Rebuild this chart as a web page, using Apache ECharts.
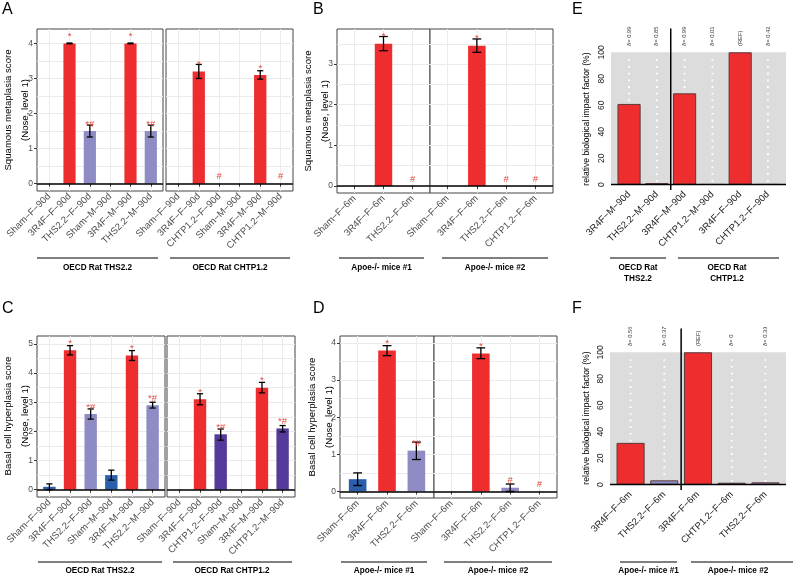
<!DOCTYPE html>
<html><head><meta charset="utf-8">
<script src="https://cdn.jsdelivr.net/npm/echarts@6/dist/echarts.min.js"></script>
<style>html,body{margin:0;padding:0;background:#fff}#c{width:793px;height:577px}</style>
</head><body><div id="c"></div>
<script>
// ================= DATA =================
// Panel A (Squamous metaplasia, OECD rat studies)
const catsA1 = ['Sham−F−90d','3R4F−F−90d','THS2.2−F−90d','Sham−M−90d','3R4F−M−90d','THS2.2−M−90d'];
const meanA1 = [0, 4.0, 1.5, 0, 4.0, 1.5];
const loA1   = [null, 3.99, 1.33, null, 3.99, 1.33];
const hiA1   = [null, 4.01, 1.67, null, 4.01, 1.67];
const sigA1  = ['', '*', '*#', '', '*', '*#'];

const catsA2 = ['Sham−F−90d','3R4F−F−90d','CHTP1.2−F−90d','Sham−M−90d','3R4F−M−90d','CHTP1.2−M−90d'];
const meanA2 = [0, 3.2, 0, 0, 3.1, 0];
const loA2   = [null, 3.0, null, null, 2.98, null];
const hiA2   = [null, 3.4, null, null, 3.22, null];
const sigA2  = ['', '*', '#', '', '*', '#'];

// Panel B (Squamous metaplasia, Apoe-/- mice)
const catsB1 = ['Sham−F−6m','3R4F−F−6m','THS2.2−F−6m'];
const meanB1 = [0, 3.5, 0];
const loB1   = [null, 3.33, null];
const hiB1   = [null, 3.68, null];
const sigB1  = ['', '*', '#'];

const catsB2 = ['Sham−F−6m','3R4F−F−6m','THS2.2−F−6m','CHTP1.2−F−6m'];
const meanB2 = [0, 3.45, 0, 0];
const loB2   = [null, 3.29, null, null];
const hiB2   = [null, 3.62, null, null];
const sigB2  = ['', '*', '#', '#'];

// Panel C (Basal cell hyperplasia, OECD rat studies)
const catsC1 = catsA1;
const meanC1 = [0.1, 4.78, 2.6, 0.5, 4.6, 2.9];
const loC1   = [0, 4.62, 2.42, 0.33, 4.43, 2.8];
const hiC1   = [0.2, 4.94, 2.77, 0.67, 4.77, 3.0];
const sigC1  = ['', '*', '*#', '', '*', '*#'];

const catsC2 = catsA2;
const meanC2 = [0, 3.1, 1.9, 0, 3.5, 2.1];
const loC2   = [null, 2.91, 1.7, null, 3.32, 1.98];
const hiC2   = [null, 3.29, 2.08, null, 3.68, 2.2];
const sigC2  = ['', '*', '*#', '', '*', '*#'];

// Panel D (Basal cell hyperplasia, Apoe-/- mice)
const catsD1 = catsB1;
const meanD1 = [0.33, 3.8, 1.1];
const loD1   = [0.16, 3.66, 0.86];
const hiD1   = [0.5, 3.93, 1.33];
const sigD1  = ['', '*', '*#'];

const catsD2 = catsB2;
const meanD2 = [0, 3.72, 0.1, 0];
const loD2   = [null, 3.58, 0, null];
const hiD2   = [null, 3.87, 0.2, null];
const sigD2  = ['', '*', '#', '#'];

// Panel E / F (relative biological impact factor, %)
const catsE  = ['3R4F−M−90d','THS2.2−M−90d','3R4F−M−90d','CHTP1.2−M−90d','3R4F−F−90d','CHTP1.2−F−90d'];
const rbifE  = [61, 1.2, 69, 0.4, 100, 0.4];
const deltaE = ['δ= 0.99','δ= 0.85','δ= 0.99','δ= 0.01','(REF)','δ= 0.42'];
const splitE = 2;   // number of bars in first group

const catsF  = ['3R4F−F−6m','THS2.2−F−6m','3R4F−F−6m','CHTP1.2−F−6m','THS2.2−F−6m'];
const rbifF  = [31.6, 3.3, 100, 1.5, 1.8];
const deltaF = ['δ= 0.56','δ= 0.37','(REF)','δ= 0','δ= 0.33'];
const splitF = 2;

const rbifTicks = [0, 20, 40, 60, 80, 100];
const groupNamesA = ['OECD Rat THS2.2', 'OECD Rat CHTP1.2'];
const groupNamesB = ['Apoe-/- mice #1', 'Apoe-/- mice #2'];
const groupNamesE = ['OECD Rat\nTHS2.2', 'OECD Rat\nCHTP1.2'];

// ================= STYLE =================
const FONT = 'Liberation Sans, Arial, Helvetica, sans-serif';
const COLORS = {'Sham':'#2B5EAB','3R4F':'#EE2E2E','THS2.2':'#8E8BC5','CHTP1.2':'#55399B'};
const colorOf = c => COLORS[c.split('−')[0]];
const GRIDC = '#ebebeb';
const SIGC = '#E8483F';
const XLAB = 9.5;

const option = {animation:false, backgroundColor:'#fff', grid:[], xAxis:[], yAxis:[], series:[], graphic:[]};

function addGG(p){
  const gi = option.grid.length;
  const [l,t,r,b] = p.box;
  option.grid.push({left:l, top:t, width:r-l, height:b-t, show:true, borderColor:'#444', borderWidth:1,
    backgroundColor:'#fff', containLabel:false, outerBoundsMode:'none'});
  const n = p.cats.length;
  const idx = p.cats.map((c,i)=>i+1);
  const xi = option.xAxis.length;
  option.xAxis.push({type:'value', gridIndex:gi, min:0.4, max:n+0.6,
    axisLine:{show:false},
    axisTick:{show:true, customValues:idx, length:3, lineStyle:{color:'#333', width:1}},
    axisLabel:{show:true, customValues:idx, formatter:v=>p.cats[Math.round(v)-1]||'', rotate:45,
      fontSize:XLAB, fontFamily:FONT, color:'#4d4d4d', margin:4},
    splitLine:{show:true, lineStyle:{color:GRIDC, width:1}}});
  const yi = option.yAxis.length;
  option.yAxis.push({type:'value', gridIndex:gi, min:p.yMin, max:p.yMax, position:'left',
    axisLine:{show:false},
    axisTick:{show:p.showY, customValues:p.yTicks, length:3, lineStyle:{color:'#333'}},
    axisLabel:{show:p.showY, customValues:p.yTicks, fontSize:8.5, fontFamily:FONT, color:'#4d4d4d', margin:4},
    splitLine:{show:false}});
  option.yAxis.push({type:'value', gridIndex:gi, min:p.yMin, max:p.yMax,
    axisLine:{show:false}, axisTick:{show:false, customValues:p.yGrid}, axisLabel:{show:false},
    splitLine:{show:true, lineStyle:{color:GRIDC, width:1}}});
  option.series.push({type:'bar', xAxisIndex:xi, yAxisIndex:yi, barWidth:'60%', z:3, silent:true,
    data:p.cats.map((c,i)=>({value:[i+1, p.mean[i]], itemStyle:{color:colorOf(c)}})),
    markLine:{silent:true, symbol:'none', label:{show:false}, animation:false,
      lineStyle:{color:'#000', width:1.6, type:'solid'}, data:[{yAxis:0}]}});
  option.series.push({type:'custom', xAxisIndex:xi, yAxisIndex:yi, z:5, silent:true,
    data:p.cats.map((c,i)=>[i+1, p.lo[i], p.hi[i]]).filter(d=>d[1]!=null),
    renderItem:(params, api)=>{
      const x = api.value(0);
      const a = api.coord([x, api.value(1)]), bb = api.coord([x, api.value(2)]);
      const hw = api.size([0.15, 0])[0];
      const st = {stroke:'#000', lineWidth:1.3};
      return {type:'group', children:[
        {type:'line', shape:{x1:a[0], y1:a[1], x2:bb[0], y2:bb[1]}, style:st},
        {type:'line', shape:{x1:a[0]-hw, y1:a[1], x2:a[0]+hw, y2:a[1]}, style:st},
        {type:'line', shape:{x1:bb[0]-hw, y1:bb[1], x2:bb[0]+hw, y2:bb[1]}, style:st}]};
    }});
  option.series.push({type:'custom', xAxisIndex:xi, yAxisIndex:yi, z:6, silent:true,
    data:p.cats.map((c,i)=>[i+1, p.mean[i]]),
    renderItem:(params, api)=>{
      const s = p.sig[params.dataIndex];
      if (!s) return null;
      const pt = api.coord([api.value(0), api.value(1)]);
      return {type:'text', x:pt[0], y:pt[1]-7, style:{text:s, fill:SIGC, font:'9.5px '+FONT,
        align:'center', verticalAlign:'middle', textAlign:'center', textVerticalAlign:'middle'}};
    }});
}

function addBase(p){
  const gi = option.grid.length;
  const [l,t,r,b] = p.box;
  option.grid.push({left:l, top:t, width:r-l, height:b-t, show:false, containLabel:false, outerBoundsMode:'none'});
  const centers = p.cats.map((c,i)=>1.2*(i+1)-0.5);
  const xi = option.xAxis.length, yi = option.yAxis.length;
  option.xAxis.push({type:'value', gridIndex:gi, min:p.xMin, max:p.xMax,
    axisLine:{show:false}, axisTick:{show:false, customValues:centers},
    axisLabel:{customValues:centers, formatter:v=>p.cats[Math.round((v+0.5)/1.2)-1]||'', rotate:45,
      fontSize:XLAB, fontFamily:FONT, color:'#222', margin:3},
    splitLine:{show:false}});
  option.yAxis.push({type:'value', gridIndex:gi, min:-4, max:104,
    axisLine:{show:false}, axisTick:{show:false, customValues:rbifTicks},
    axisLabel:{customValues:rbifTicks, rotate:90, fontSize:8.5, fontFamily:FONT, color:'#222', margin:5},
    splitLine:{show:false}});
  // grey background
  option.series.push({type:'custom', xAxisIndex:xi, yAxisIndex:yi, z:1, silent:true,
    data:[[p.xMin, 0, p.xMax, 100]],
    renderItem:(params, api)=>{
      const a = api.coord([api.value(0), api.value(1)]), bb = api.coord([api.value(2), api.value(3)]);
      return {type:'rect', shape:{x:a[0], y:bb[1], width:bb[0]-a[0], height:a[1]-bb[1]}, style:{fill:'#dcdcdc'}};
    }});
  // white dotted guide lines
  option.series.push({type:'custom', xAxisIndex:xi, yAxisIndex:yi, z:2, silent:true,
    data:centers.map(c=>[c, 0, 100]),
    renderItem:(params, api)=>{
      const a = api.coord([api.value(0), api.value(1)]), bb = api.coord([api.value(0), api.value(2)]);
      return {type:'line', shape:{x1:a[0], y1:a[1]-3, x2:bb[0], y2:bb[1]+3},
        style:{stroke:'#fff', lineWidth:1.8, lineDash:[1.8, 4.9]}};
    }});
  option.series.push({type:'bar', xAxisIndex:xi, yAxisIndex:yi, barWidth:'83.33%', z:3, silent:true,
    data:p.cats.map((c,i)=>({value:[centers[i], p.vals[i]],
      itemStyle:{color:colorOf(c), borderColor:'#5a3a3a', borderWidth:1}})),
    markLine:{silent:true, symbol:'none', label:{show:false}, animation:false,
      lineStyle:{color:'#000', width:1.3, type:'solid'}, data:[{yAxis:0}]}});
  // separator + delta labels
  const sep = 1.2*p.split + 0.1;
  option.series.push({type:'custom', xAxisIndex:xi, yAxisIndex:yi, z:6, silent:true,
    data:[[sep, -4, 118]].concat(centers.map(c=>[c, 104, 104])),
    renderItem:(params, api)=>{
      if (params.dataIndex === 0){
        const a = api.coord([api.value(0), api.value(1)]), bb = api.coord([api.value(0), api.value(2)]);
        return {type:'line', shape:{x1:a[0], y1:a[1], x2:bb[0], y2:bb[1]}, style:{stroke:'#000', lineWidth:1.5}};
      }
      const pt = api.coord([api.value(0), api.value(1)]);
      return {type:'text', x:pt[0], y:pt[1]-1, rotation:Math.PI/2,
        style:{text:p.delta[params.dataIndex-1], fill:'#333', font:'5.8px '+FONT,
          align:'left', verticalAlign:'middle', textAlign:'left', textVerticalAlign:'middle'}};
    }});
}

const yG = (max)=>{ const a=[]; for(let v=0; v<=max; v+=0.5) a.push(v); return a; };

addGG({box:[37,29,163,191], cats:catsA1, mean:meanA1, lo:loA1, hi:hiA1, sig:sigA1, yMin:-0.21, yMax:4.41, yTicks:[0,1,2,3,4], yGrid:yG(4.41), showY:true});
addGG({box:[166,29,293,191], cats:catsA2, mean:meanA2, lo:loA2, hi:hiA2, sig:sigA2, yMin:-0.21, yMax:4.41, yTicks:[0,1,2,3,4], yGrid:yG(4.41), showY:false});
addGG({box:[337,29,430,193], cats:catsB1, mean:meanB1, lo:loB1, hi:hiB1, sig:sigB1, yMin:-0.173, yMax:3.865, yTicks:[0,1,2,3], yGrid:yG(3.865), showY:true});
addGG({box:[430,29,553,193], cats:catsB2, mean:meanB2, lo:loB2, hi:hiB2, sig:sigB2, yMin:-0.173, yMax:3.865, yTicks:[0,1,2,3], yGrid:yG(3.865), showY:false});
addGG({box:[37,336,165,497], cats:catsC1, mean:meanC1, lo:loC1, hi:hiC1, sig:sigC1, yMin:-0.25, yMax:5.27, yTicks:[0,1,2,3,4,5], yGrid:yG(5.27), showY:true});
addGG({box:[167,336,295,497], cats:catsC2, mean:meanC2, lo:loC2, hi:hiC2, sig:sigC2, yMin:-0.25, yMax:5.27, yTicks:[0,1,2,3,4,5], yGrid:yG(5.27), showY:false});
addGG({box:[340,336,434,498], cats:catsD1, mean:meanD1, lo:loD1, hi:hiD1, sig:sigD1, yMin:-0.177, yMax:4.19, yTicks:[0,1,2,3,4], yGrid:yG(4.19), showY:true});
addGG({box:[434,336,557,498], cats:catsD2, mean:meanD2, lo:loD2, hi:hiD2, sig:sigD2, yMin:-0.177, yMax:4.19, yTicks:[0,1,2,3,4], yGrid:yG(4.19), showY:false});
addBase({box:[611,47,786,190], cats:catsE, vals:rbifE, delta:deltaE, split:splitE, xMin:-0.08, xMax:7.48});
addBase({box:[610,347,786,490], cats:catsF, vals:rbifF, delta:deltaF, split:splitF, xMin:-0.032, xMax:6.232});

// ================= DECORATION (text, titles, group brackets) =================
const G = option.graphic;
function txt(text, x, y, font, o){
  o = o || {};
  G.push({type:'text', x:x, y:y, rotation:o.rot||0, silent:true, z:10,
    style:{text:text, fill:o.color||'#000', font:font, align:o.align||'center', verticalAlign:o.va||'middle',
      textAlign:o.align||'center', textVerticalAlign:o.va||'middle', lineHeight:o.lh}});
}
function hline(x1, x2, y){
  G.push({type:'line', silent:true, z:10, shape:{x1:x1, y1:y, x2:x2, y2:y}, style:{stroke:'#000', lineWidth:1.2}});
}
// panel letters
txt('A', 2, 10, '16px '+FONT, {align:'left'});
txt('B', 313, 10, '16px '+FONT, {align:'left'});
txt('E', 572, 10, '16px '+FONT, {align:'left'});
txt('C', 2, 309, '16px '+FONT, {align:'left'});
txt('D', 313, 309, '16px '+FONT, {align:'left'});
txt('F', 572, 309, '16px '+FONT, {align:'left'});
// y titles
const R90 = Math.PI/2;
txt('Squamous metaplasia score\n(Nose, level 1)', 17, 110, '9.6px '+FONT, {rot:R90, lh:16.5});
txt('Squamous metaplasia score\n(Nose, level 1)', 317, 111, '9.6px '+FONT, {rot:R90, lh:16.5});
txt('Basal cell hyperplasia score\n(Nose, level 1)', 17, 416, '9.6px '+FONT, {rot:R90, lh:16.5});
txt('Basal cell hyperplasia score\n(Nose, level 1)', 321, 417, '9.6px '+FONT, {rot:R90, lh:16.5});
txt('relative biological impact factor (%)', 587, 119, '8.6px '+FONT, {rot:R90});
txt('relative biological impact factor (%)', 587, 418, '8.6px '+FONT, {rot:R90});
// group brackets row 1
const BF = 'bold 8.2px '+FONT;
hline(37, 158, 258);  txt(groupNamesA[0], 97.5, 268, BF);
hline(170, 290, 258); txt(groupNamesA[1], 230, 268, BF);
hline(339, 424, 258); txt(groupNamesB[0], 381.5, 268, BF);
hline(442, 548, 258); txt(groupNamesB[1], 495, 268, BF);
hline(610, 666, 258); txt(groupNamesE[0], 638, 273, BF, {lh:10.5});
hline(678, 779, 258); txt(groupNamesE[1], 727, 273, BF, {lh:10.5});
// group brackets row 2
hline(38, 162, 562);  txt(groupNamesA[0], 100, 571, BF);
hline(173, 292, 562); txt(groupNamesA[1], 232, 571, BF);
hline(341, 427, 562); txt(groupNamesB[0], 384, 571, BF);
hline(444, 552, 562); txt(groupNamesB[1], 498, 571, BF);
hline(620, 677, 562); txt(groupNamesB[0], 648.5, 571, BF);
hline(691, 793, 562); txt(groupNamesB[1], 738, 571, BF);

const chart = echarts.init(document.getElementById('c'), null, {renderer:'canvas'});
chart.setOption(option);
</script></body></html>
